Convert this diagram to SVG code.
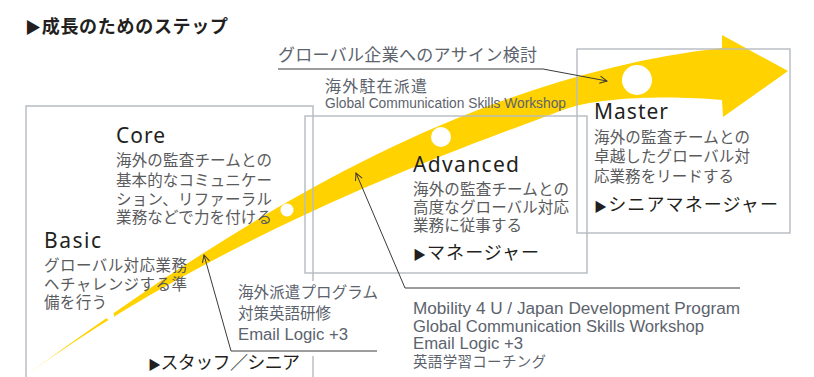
<svg xmlns="http://www.w3.org/2000/svg" width="814" height="377" viewBox="0 0 814 377">
<style>
.jp{font-family:"Noto Sans CJK JP","Noto Sans",sans-serif}
.lat{font-family:"Noto Sans","Liberation Sans",sans-serif}
.latl{font-family:"Liberation Sans","Noto Sans",sans-serif}
.title{font-size:18px;font-weight:bold;fill:#231f20}
.head{font-size:21px;fill:#231f20}
.desc{font-size:15.5px;fill:#5a5b5d}
.role{font-size:18px;fill:#231f20}
.tri{font-size:13px}
.lbl{font-size:16px;fill:#5c636d}
.lblj{fill:#5c636d}
.box{fill:none;stroke:#b6bbc1;stroke-width:1.4}
.lead{fill:none;stroke:#3a3a3a;stroke-width:1}
</style>
<defs>
<marker id="chev" viewBox="0 0 10 10" refX="9" refY="5" markerWidth="9" markerHeight="9" markerUnits="userSpaceOnUse" orient="auto">
<path d="M1,1 L9,5 L1,9" fill="none" stroke="#3a3a3a" stroke-width="1.1"/>
</marker>
</defs>
<rect width="814" height="377" fill="#fff"/>
<text class="jp title" x="25" y="33" textLength="203"><tspan style="font-size:16px">▶</tspan>成長のためのステップ</text>
<g id="band">
<path d="M25,376 C200,250 440,80 722,48 L722,35 L788,71 L723,117 L722,100 C680,96 600,95 560,111 C500,135 240,220 25,376 Z" fill="#ffd200"/>
<circle cx="637" cy="80" r="15" fill="#fff"/>
<circle cx="441" cy="137" r="10" fill="#fff"/>
<circle cx="287" cy="210" r="6.5" fill="#fff"/>
<circle cx="110" cy="316" r="4" fill="#fff"/>
</g>
<g id="frames">
<path class="box" d="M26,390 V106 H313 V281 M313,356 V390"/>
<rect class="box" x="305" y="116" width="282" height="157"/>
<rect class="box" x="577" y="49" width="213" height="184"/>
</g>
<g id="node-basic">
<text class="lat head" x="44" y="248" textLength="57">Basic</text>
<text class="jp desc" x="44" y="271" textLength="143">グローバル対応業務</text>
<text class="jp desc" x="44" y="290" textLength="143">ヘチャレンジする準</text>
<text class="jp desc" x="44" y="308" textLength="63">備を行う</text>
<text class="jp role" x="148" y="369" textLength="152"><tspan class="tri">▶</tspan>スタッフ／シニア</text>
</g>
<g id="node-core">
<text class="lat head" x="116" y="143" textLength="49">Core</text>
<text class="jp desc" x="116" y="166" textLength="156">海外の監査チームとの</text>
<text class="jp desc" x="116" y="186" textLength="156">基本的なコミュニケー</text>
<text class="jp desc" x="116" y="205" textLength="156">ション、リファーラル</text>
<text class="jp desc" x="116" y="223" textLength="156">業務などで力を付ける</text>
</g>
<g id="node-advanced">
<text class="lat head" x="413" y="172" textLength="106">Advanced</text>
<text class="jp desc" x="413" y="195" textLength="156">海外の監査チームとの</text>
<text class="jp desc" x="413" y="213" textLength="156">高度なグローバル対応</text>
<text class="jp desc" x="413" y="231" textLength="109">業務に従事する</text>
<text class="jp role" x="413" y="259" textLength="126"><tspan class="tri">▶</tspan>マネージャー</text>
</g>
<g id="node-master">
<text class="lat head" x="594" y="119" textLength="74">Master</text>
<text class="jp desc" x="594" y="143" textLength="156">海外の監査チームとの</text>
<text class="jp desc" x="594" y="162" textLength="156">卓越したグローバル対</text>
<text class="jp desc" x="594" y="182" textLength="140">応業務をリードする</text>
<text class="jp role" x="594" y="211" textLength="184"><tspan class="tri">▶</tspan>シニアマネージャー</text>
</g>
<g id="labels">
<text class="jp lblj" x="278" y="61" textLength="259" style="font-size:17px">グローバル企業へのアサイン検討</text>
<text class="jp lblj" x="325" y="92" textLength="102" style="font-size:16px">海外駐在派遣</text>
<text class="latl lbl" x="325" y="108" textLength="241" lengthAdjust="spacingAndGlyphs" style="font-size:15.5px">Global Communication Skills Workshop</text>
<text class="jp lblj" x="238" y="298" textLength="140" style="font-size:15.5px">海外派遣プログラム</text>
<text class="jp lblj" x="238" y="319" textLength="93" style="font-size:15.5px">対策英語研修</text>
<text class="latl lbl" x="238" y="340" textLength="110" lengthAdjust="spacingAndGlyphs">Email Logic +3</text>
<text class="latl lbl" x="413" y="314" textLength="327" lengthAdjust="spacingAndGlyphs">Mobility 4 U / Japan Development Program</text>
<text class="latl lbl" x="413" y="332" textLength="291" lengthAdjust="spacingAndGlyphs">Global Communication Skills Workshop</text>
<text class="latl lbl" x="413" y="349" textLength="110" lengthAdjust="spacingAndGlyphs">Email Logic +3</text>
<text class="jp lblj" x="413" y="367" textLength="133" style="font-size:14.5px">英語学習コーチング</text>
</g>
<g id="connectors">
<polyline class="lead" points="278,69 543,69 607,81" marker-end="url(#chev)"/>
<polyline class="lead" points="377,351 231,351 204,255" marker-end="url(#chev)"/>
<polyline class="lead" points="740,288 405,288 356,173" marker-end="url(#chev)"/>
</g>
</svg>
